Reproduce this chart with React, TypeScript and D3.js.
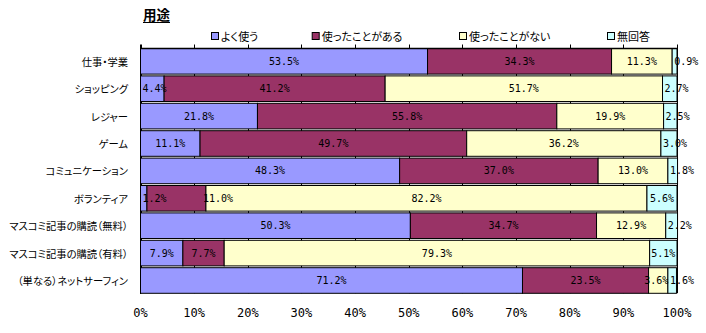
import React from "react";
import * as d3 from "d3";

const categories = [
  "仕事・学業",
  "ショッピング",
  "レジャー",
  "ゲーム",
  "コミュニケーション",
  "ボランティア",
  "マスコミ記事の購読（無料）",
  "マスコミ記事の購読（有料）",
  "（単なる）ネットサーフィン",
];
const seriesNames = ["よく使う", "使ったことがある", "使ったことがない", "無回答"];
const yokuTsukau = [53.5, 4.4, 21.8, 11.1, 48.3, 1.2, 50.3, 7.9, 71.2];
const tsukattaAru = [34.3, 41.2, 55.8, 49.7, 37.0, 11.0, 34.7, 7.7, 23.5];
const tsukattaNai = [11.3, 51.7, 19.9, 36.2, 13.0, 82.2, 12.9, 79.3, 3.6];
const muKaitou = [0.9, 2.7, 2.5, 3.0, 1.8, 5.6, 2.2, 5.1, 1.6];
const seriesValues = [yokuTsukau, tsukattaAru, tsukattaNai, muKaitou];
const colors = ["#9999FF", "#993366", "#FFFFCC", "#CCFFFF"];
const xTicks = [0, 10, 20, 30, 40, 50, 60, 70, 80, 90, 100];
const title = "用途";

const W = 706;
const H = 333;
const left = 140.5;
const right = 677;
const top = 47.6;
const bottom = 294.2;

const JP = "'Noto Sans CJK JP', 'Noto Sans', sans-serif";
const MONO = "'DejaVu Sans Mono', monospace";

export default function App() {
  const x = d3.scaleLinear().domain([0, 100]).range([left, right]);
  const y = d3
    .scaleBand<string>()
    .domain(categories)
    .range([top, bottom])
    .paddingInner(0.066)
    .paddingOuter(0.033);

  const stackData = categories.map((c, i) => {
    const o: any = { cat: c };
    seriesNames.forEach((s, k) => (o[s] = seriesValues[k][i]));
    return o;
  });
  const stacked = d3.stack<any>().keys(seriesNames)(stackData);

  const labelFont = 10;
  const charW = labelFont * 0.602;

  const labels: { x: number; y: number; anchor: string; text: string }[] = [];
  categories.forEach((c, i) => {
    let prevRight = -Infinity;
    stacked.forEach((layer, k) => {
      const d = layer[i];
      const x0 = x(d[0]);
      const x1 = x(d[1]);
      const text = seriesValues[k][i].toFixed(1) + "%";
      const tw = text.length * charW;
      const segW = x1 - x0;
      const fits = tw + 2 <= segW;
      let lx: number;
      let anchor = "middle";
      let lLeft: number;
      if (fits) {
        lx = (x0 + x1) / 2;
        lLeft = lx - tw / 2;
        if (lLeft < prevRight) {
          lx = x1 - 3;
          anchor = "start";
          lLeft = lx;
        }
      } else if (k === 0 || k === seriesNames.length - 1) {
        lx = x0 + 2;
        anchor = "start";
        lLeft = lx;
      } else {
        lx = (x0 + x1) / 2 - 2;
        lLeft = lx - tw / 2;
      }
      prevRight = lLeft + tw;
      labels.push({ x: lx, y: (y(c) as number) + y.bandwidth() / 2, anchor, text });
    });
  });

  const legendX = [211, 311.7, 459, 607];

  return (
    <svg
      width={W}
      height={H}
      style={{ position: "absolute", left: 0, top: 0, background: "#fff" }}
    >
      <rect x={0} y={0} width={W} height={H} fill="#fff" />
      {/* title */}
      <text x={143} y={20} fontFamily={JP} fontSize={13.5} fontWeight="bold" fill="#000">
        {title}
      </text>
      <line x1={143} x2={170} y1={22.5} y2={22.5} stroke="#000" strokeWidth={1} />
      {/* legend */}
      {seriesNames.map((s, k) => (
        <g key={s} transform={`translate(${legendX[k]},32)`}>
          <rect x={0.5} y={0.5} width={7} height={7} fill={colors[k]} stroke="#000" strokeWidth={1} />
          <text
            x={10}
            y={4}
            dominantBaseline="central"
            fontFamily={JP}
            fontSize={11}
            style={{ fontFeatureSettings: "'palt'" }}
            fill="#000"
          >
            {s}
          </text>
        </g>
      ))}
      {/* gridlines */}
      {xTicks.map((t) => (
        <line
          key={t}
          x1={Math.round(x(t)) + 0.5}
          x2={Math.round(x(t)) + 0.5}
          y1={44.5}
          y2={bottom - 1}
          stroke="#000"
          strokeWidth={1}
        />
      ))}
      {/* bars */}
      {stacked.map((layer, k) => (
        <g key={k}>
          {layer.map((d, i) => (
            <rect
              key={i}
              x={x(d[0])}
              y={y(categories[i])}
              width={x(d[1]) - x(d[0])}
              height={y.bandwidth()}
              fill={colors[k]}
              stroke="#000"
              strokeWidth={1}
            />
          ))}
        </g>
      ))}
      {/* top axis line */}
      <line x1={left} x2={right} y1={48.5} y2={48.5} stroke="#000" strokeWidth={1.5} />
      <line x1={left} x2={left} y1={44.5} y2={294} stroke="#000" strokeWidth={1} />
      {/* data labels */}
      {labels.map((l, i) => (
        <text
          key={i}
          x={l.x}
          y={l.y}
          textAnchor={l.anchor as any}
          dominantBaseline="central"
          fontFamily={MONO}
          fontSize={labelFont}
          fill="#000"
        >
          {l.text}
        </text>
      ))}
      {/* category labels */}
      {categories.map((c) => (
        <text
          key={c}
          x={128}
          y={(y(c) as number) + y.bandwidth() / 2}
          textAnchor="end"
          dominantBaseline="central"
          fontFamily={JP}
          fontSize={10.3}
          style={{ fontFeatureSettings: "'palt'" }}
          fill="#000"
        >
          {c}
        </text>
      ))}
      {/* x tick labels */}
      {xTicks.map((t) => (
        <text
          key={t}
          x={x(t)}
          y={313}
          textAnchor="middle"
          dominantBaseline="central"
          fontFamily={MONO}
          fontSize={12}
          fill="#000"
        >
          {t + "%"}
        </text>
      ))}
    </svg>
  );
}
